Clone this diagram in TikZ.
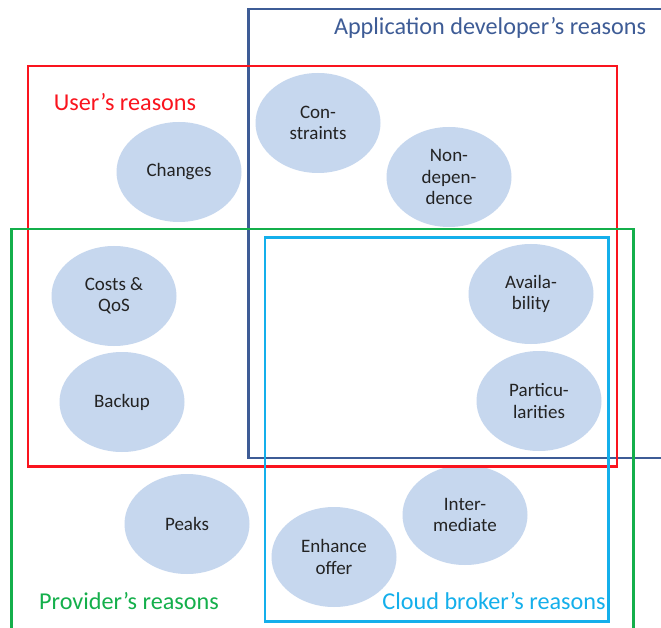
\documentclass[tikz,border=0pt]{standalone}
\usepackage{fontspec}
\setmainfont{Carlito}
\usetikzlibrary{shapes.geometric}
\definecolor{ured}{RGB}{250,20,30}
\definecolor{adblue}{RGB}{62,92,150}
\definecolor{pgreen}{RGB}{20,175,75}
\definecolor{cbcyan}{RGB}{20,175,235}
\definecolor{ellfill}{RGB}{198,215,238}
\definecolor{etext}{RGB}{35,35,35}
\begin{document}
\begin{tikzpicture}[x=1pt,y=-1pt,
  reason/.style={ellipse,fill=ellfill,draw=none,minimum width=125pt,minimum height=100pt,inner sep=0pt,align=center,text=etext,font=\fontsize{19}{21.5}\selectfont},
  grouplabel/.style={font=\fontsize{24.2}{28}\selectfont,inner sep=0pt,anchor=center},
  frame/.style={line width=2.2pt}]
\clip (0,0) rectangle (661,628);
\fill[white] (0,0) rectangle (661,628);
% ellipses
\node[reason] (changes) at (179,172) {Changes};
\node[reason] (constr) at (318,123) {Con-\\straints};
\node[reason] (nondep) at (449,177) {Non-\\depen-\\dence};
\node[reason] (costs) at (114,296) {Costs \&\\QoS};
\node[reason] (backup) at (122,402) {Backup};
\node[reason] (avail) at (531,294) {Availa-\\bility};
\node[reason] (partic) at (539,401) {Particu-\\larities};
\node[reason] (peaks) at (187,524) {Peaks};
\node[reason] (enh) at (334,557) {Enhance\\offer};
\node[reason] (inter) at (465,515) {Inter-\\mediate};
% frames
\draw[frame,adblue] (248.5,9) rectangle (680,458);
\draw[frame,ured,line width=2.6pt] (28,66) rectangle (617,466.5);
\draw[frame,pgreen] (11.5,229) rectangle (633.5,650);
\draw[frame,cbcyan] (265,237.5) rectangle (608.5,621.5);
% labels
\node[grouplabel,text=adblue] (adlab) at (490,28) {Application developer’s reasons};
\node[grouplabel,text=ured] (ulab) at (125,102) {User’s reasons};
\node[grouplabel,text=pgreen] (plab) at (129,601) {Provider’s reasons};
\node[grouplabel,text=cbcyan] (clab) at (494,601) {Cloud broker’s reasons};
\end{tikzpicture}
\end{document}
